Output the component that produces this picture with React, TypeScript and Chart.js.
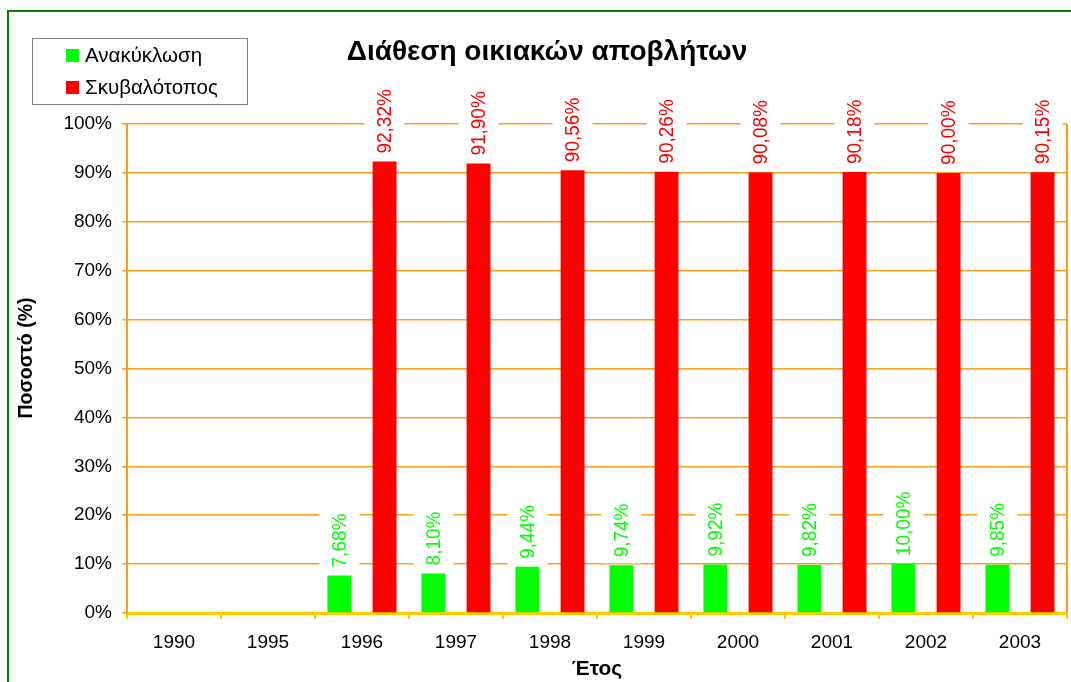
import React, { useEffect, useRef } from 'react';
import { Chart, registerables } from 'chart.js';

Chart.register(...registerables);

const years = ['1990', '1995', '1996', '1997', '1998', '1999', '2000', '2001', '2002', '2003'];
const recycling = [null, null, 7.68, 8.1, 9.44, 9.74, 9.92, 9.82, 10.0, 9.85];
const landfill = [null, null, 92.32, 91.9, 90.56, 90.26, 90.08, 90.18, 90.0, 90.15];
const seriesNames = ['Ανακύκλωση', 'Σκυβαλότοπος'];
const seriesColors = ['#00FF00', '#FF0000'];
const chartTitle = 'Διάθεση οικιακών αποβλήτων';
const yTitle = 'Ποσοστό (%)';
const xTitle = 'Έτος';

const FONT = "'Liberation Sans', Arial, sans-serif";
const GRID = '#FF9E1A';

const fmt = (v: number) => v.toFixed(2).replace('.', ',') + '%';

const decorPlugin = {
  id: 'decor',
  beforeDraw(chart: any) {
    const { ctx, width, height } = chart;
    ctx.save();
    ctx.fillStyle = '#FFFFFF';
    ctx.fillRect(0, 0, width, height);
    ctx.restore();
  },
  afterDraw(chart: any) {
    const { ctx, chartArea } = chart;
    ctx.save();
    // outer green border
    ctx.strokeStyle = '#008000';
    ctx.lineWidth = 2;
    ctx.strokeRect(8, 11, 1200, 800);
    // right plot border
    ctx.strokeStyle = GRID;
    ctx.lineWidth = 2;
    ctx.beginPath();
    ctx.moveTo(chartArea.right, chartArea.top);
    ctx.lineTo(chartArea.right, chartArea.bottom);
    ctx.stroke();
    // title
    ctx.fillStyle = '#000000';
    ctx.font = `bold 28px ${FONT}`;
    ctx.textAlign = 'center';
    ctx.textBaseline = 'alphabetic';
    ctx.fillText(chartTitle, 547, 60);
    // axis titles
    ctx.font = `bold 21px ${FONT}`;
    ctx.fillText(xTitle, 597, 675);
    ctx.save();
    ctx.font = `bold 19.5px ${FONT}`;
    ctx.translate(32, 358);
    ctx.rotate(-Math.PI / 2);
    ctx.textBaseline = 'alphabetic';
    ctx.fillText(yTitle, 0, 0);
    ctx.restore();
    // legend
    ctx.strokeStyle = '#808080';
    ctx.lineWidth = 1;
    ctx.strokeRect(32.5, 38.5, 215, 66);
    ctx.font = `20.5px ${FONT}`;
    ctx.textAlign = 'left';
    ctx.textBaseline = 'middle';
    const rowsY = [55, 87];
    seriesNames.forEach((n, i) => {
      ctx.fillStyle = seriesColors[i];
      ctx.fillRect(66, rowsY[i] - 6, 13, 13);
      ctx.fillStyle = '#000000';
      ctx.fillText(n, 85, rowsY[i] + 1);
    });
    ctx.restore();
  },
  afterDatasetsDraw(chart: any) {
    const { ctx } = chart;
    ctx.save();
    chart.data.datasets.forEach((ds: any, di: number) => {
      const meta = chart.getDatasetMeta(di);
      meta.data.forEach((el: any, i: number) => {
        const v = ds.data[i];
        if (v === null || v === undefined) return;
        const text = fmt(v);
        ctx.save();
        ctx.translate(el.x, el.y - 8);
        ctx.rotate(-Math.PI / 2);
        ctx.font = `19px ${FONT}`;
        const w = ctx.measureText(text).width;
        ctx.fillStyle = '#FFFFFF';
        ctx.fillRect(-6, -20, w + 9, 40);
        ctx.scale(1, 1.1);
        ctx.fillStyle = seriesColors[di];
        ctx.textAlign = 'left';
        ctx.textBaseline = 'middle';
        ctx.fillText(text, 0, 1);
        ctx.restore();
      });
    });
    ctx.restore();
  },
};

export default function App() {
  const ref = useRef<HTMLCanvasElement>(null);
  useEffect(() => {
    if (!ref.current) return;
    const chart = new Chart(ref.current, {
      type: 'bar',
      data: {
        labels: years,
        datasets: [
          {
            label: seriesNames[0],
            data: recycling,
            backgroundColor: seriesColors[0],
            barPercentage: 0.53,
            categoryPercentage: 0.96,
          },
          {
            label: seriesNames[1],
            data: landfill,
            backgroundColor: seriesColors[1],
            barPercentage: 0.53,
            categoryPercentage: 0.96,
          },
        ],
      },
      options: {
        animation: false,
        responsive: false,
        layout: { padding: { top: 124, right: 4, left: 0, bottom: 0 } },
        plugins: {
          legend: { display: false },
          title: { display: false },
          tooltip: { enabled: false },
        },
        scales: {
          x: {
            offset: true,
            grid: {
              offset: true,
              drawOnChartArea: false,
              color: '#FFCC00',
              lineWidth: 2,
              tickLength: 6,
            },
            border: { color: '#FFCC00', width: 3 },
            ticks: {
              color: '#000000',
              font: { family: FONT, size: 19 },
              padding: 12,
              maxRotation: 0,
            },
            afterFit: (s: any) => {
              s.height = 682 - 613;
            },
          },
          y: {
            min: 0,
            max: 100,
            grid: {
              color: GRID,
              lineWidth: 1.5,
              tickLength: 5,
            },
            border: { color: GRID, width: 2 },
            ticks: {
              stepSize: 10,
              color: '#000000',
              font: { family: FONT, size: 19 },
              padding: 10,
              callback: (v: any) => v + '%',
            },
            afterFit: (s: any) => {
              s.width = 127;
            },
          },
        },
      },
      plugins: [decorPlugin],
    });
    return () => chart.destroy();
  }, []);
  return (
    <div style={{ position: 'absolute', left: 0, top: 0, width: 1071, height: 682 }}>
      <canvas ref={ref} width={1071} height={682} style={{ width: 1071, height: 682, display: 'block' }} />
    </div>
  );
}
